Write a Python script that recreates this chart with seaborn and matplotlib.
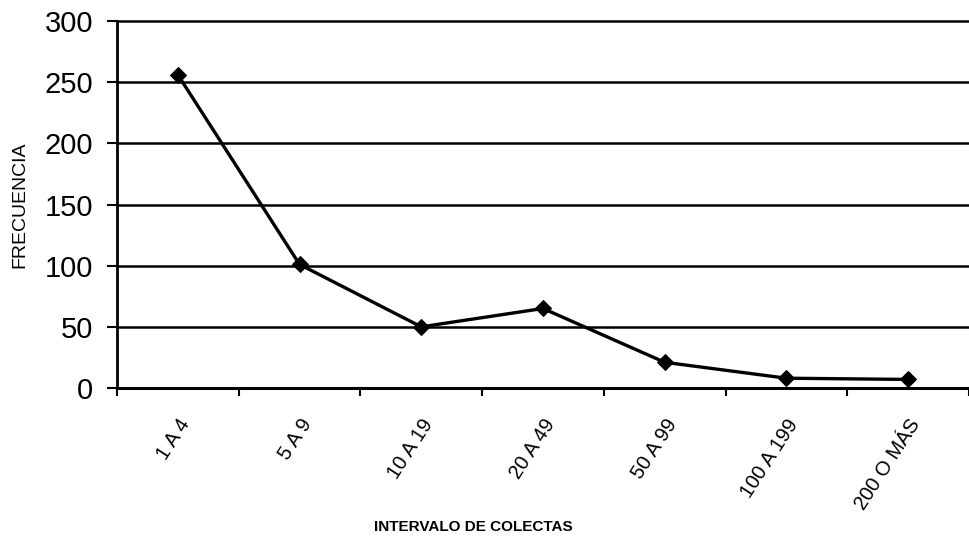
import numpy as np
import pandas as pd
import matplotlib
matplotlib.use("Agg")
import matplotlib.pyplot as plt
import seaborn as sns

# Datos
intervalos = ["1 A 4", "5 A 9", "10 A 19", "20 A 49", "50 A 99", "100 A 199", "200 O MÁS"]
frecuencias = [256, 101, 50, 65, 21, 8, 7]
ticks_y = [0, 50, 100, 150, 200, 250, 300]

df = pd.DataFrame({"intervalo": intervalos, "frecuencia": frecuencias})

sns.set_style("white")
plt.rcParams["font.family"] = ["Liberation Sans", "DejaVu Sans"]
plt.rcParams["text.color"] = "black"
plt.rcParams["xtick.color"] = "black"
plt.rcParams["ytick.color"] = "black"
plt.rcParams["axes.labelcolor"] = "black"

fig = plt.figure(figsize=(9.69, 5.37), dpi=100)
ax = fig.add_axes([117 / 969, 1 - 388 / 537, 1 - 117 / 969, (388 - 21) / 537])

sns.lineplot(data=df, x="intervalo", y="frecuencia", sort=False, ax=ax,
             color="black", linewidth=2.4, marker="D", markersize=8,
             markeredgecolor="black", markerfacecolor="black")

# Líneas horizontales de la cuadrícula
for v in ticks_y:
    ax.axhline(v, color="black", linewidth=1.8, zorder=0, clip_on=False)

ax.set_ylim(0, 300)
ax.set_xlim(-0.5, 6.5)
ax.set_yticks(ticks_y)
ax.tick_params(axis="y", labelsize=21, length=7, width=1.5, direction="out", pad=10, left=True)

ax.set_xticks(range(len(intervalos)))
ax.set_xticklabels(intervalos, rotation=57, ha="right", rotation_mode="anchor", fontsize=14.5)
ax.tick_params(axis="x", length=0, pad=20)
ax.set_xticks(np.arange(-0.5, 6.6, 1), minor=True)
ax.tick_params(axis="x", which="minor", length=6, width=1.5, direction="out", bottom=True)

for s in ["top", "right"]:
    ax.spines[s].set_visible(False)
ax.spines["left"].set_linewidth(2)
ax.spines["bottom"].set_linewidth(2.2)
ax.spines["left"].set_color("black")
ax.spines["bottom"].set_color("black")

ax.set_xlabel("")
ax.set_ylabel("")
fig.text(20 / 969, 1 - 205 / 537, "FRECUENCIA", fontsize=14, rotation=90,
         ha="center", va="center")
fig.text(473 / 969, 1 - 527 / 537, "INTERVALO DE COLECTAS", fontsize=11,
         fontweight="bold", ha="center", va="center")

fig.savefig("out.png", dpi=100)
